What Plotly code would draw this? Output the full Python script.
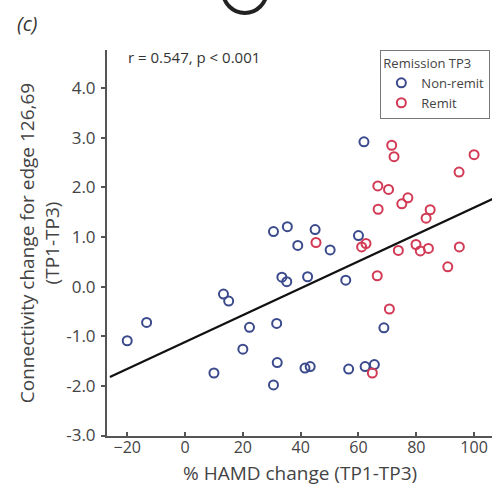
import plotly.graph_objects as go

# Non-remit (blue) points: % HAMD change, connectivity change
nonremit_x = [-20.0, -13.3, 13.3, 15.1, 22.3, 20.0, 10.0, 31.7, 31.9, 30.6,
              33.5, 35.2, 42.4, 55.6, 30.6, 35.4, 45.0, 39.0, 50.2, 60.0,
              61.9, 41.5, 43.3, 56.6, 62.3, 65.5, 68.8]
nonremit_y = [-1.09, -0.72, -0.15, -0.29, -0.82, -1.26, -1.74, -0.74, -1.53, -1.98,
              0.19, 0.10, 0.20, 0.13, 1.11, 1.21, 1.15, 0.83, 0.74, 1.03,
              2.92, -1.64, -1.61, -1.66, -1.61, -1.57, -0.83]

# Remit (red) points
remit_x = [45.3, 61.1, 62.6, 71.5, 72.3, 100.0, 94.8, 66.7, 70.4, 77.1,
           75.0, 66.8, 84.8, 83.4, 73.8, 79.9, 81.4, 84.2, 94.9, 90.9,
           66.5, 70.7, 64.8]
remit_y = [0.89, 0.80, 0.87, 2.85, 2.62, 2.66, 2.31, 2.03, 1.96, 1.79,
           1.67, 1.56, 1.55, 1.38, 0.73, 0.85, 0.72, 0.77, 0.80, 0.40,
           0.22, -0.45, -1.74]

# Regression line endpoints
fit_x = [-26.0, 106.5]
fit_y = [-1.82, 1.77]

x_ticks = [-20, 0, 20, 40, 60, 80, 100]
y_ticks = [-3.0, -2.0, -1.0, 0.0, 1.0, 2.0, 3.0, 4.0]
y_tick_labels = ["-3.0", "-2.0", "-1.0", "0.0", "1.0", "2.0", "3.0", "4.0"]

BLUE = "#3b4a8c"
RED = "#d23a55"
FONT = "Open Sans"
TXT = "#444444"

fig = go.Figure()
fig.add_trace(go.Scatter(
    x=fit_x, y=fit_y, mode="lines",
    line=dict(color="#111111", width=2.2),
    showlegend=False, hoverinfo="skip"))
fig.add_trace(go.Scatter(
    x=nonremit_x, y=nonremit_y, mode="markers", name="Non-remit",
    marker=dict(symbol="circle-open", size=9, color=BLUE, line=dict(width=2, color=BLUE))))
fig.add_trace(go.Scatter(
    x=remit_x, y=remit_y, mode="markers", name="Remit",
    marker=dict(symbol="circle-open", size=9, color=RED, line=dict(width=2, color=RED))))

fig.update_layout(
    width=500, height=490,
    margin=dict(l=107, r=8, t=50, b=54),
    paper_bgcolor="white", plot_bgcolor="white",
    font=dict(family=FONT, color=TXT, size=13),
    legend=dict(
        title=dict(text="Remission TP3", font=dict(size=13, color=TXT)),
        font=dict(size=13, color=TXT),
        x=0.71, y=1.0, xanchor="left", yanchor="top",
        bordercolor="#777", borderwidth=1, bgcolor="white",
        itemwidth=30, tracegroupgap=0,
    ),
    xaxis=dict(
        range=[-27.0, 106.2], tickvals=x_ticks,
        showgrid=False, zeroline=False, automargin=False,
        showline=True, linecolor="#555", linewidth=1.5,
        ticks="inside", ticklen=4, tickcolor="#555", tickwidth=1.5,
        ticklabelstandoff=-4,
        tickfont=dict(size=16, color=TXT),
    ),
    yaxis=dict(
        range=[-3.01, 4.77], tickvals=y_ticks, ticktext=y_tick_labels,
        showgrid=False, zeroline=False, automargin=False,
        showline=True, linecolor="#555", linewidth=2,
        ticks="outside", ticklen=4, tickcolor="#555", tickwidth=1.5,
        ticklabelstandoff=2,
        tickfont=dict(size=17, color=TXT),
        title=dict(text="Connectivity change for edge 126,69<br>(TP1-TP3)",
                   font=dict(size=19, color=TXT), standoff=2),
    ),
    annotations=[
        dict(text="% HAMD change (TP1-TP3)", xref="paper", yref="paper",
             x=0.5, y=-0.095, xanchor="center", yanchor="middle", showarrow=False,
             font=dict(size=19, color=TXT)),
        dict(text="r = 0.547, p < 0.001", xref="paper", yref="paper",
             x=0.05, y=1.012, xanchor="left", yanchor="top", showarrow=False,
             font=dict(size=15, color="#333")),
        dict(text="<i>(c)</i>", xref="paper", yref="paper",
             x=-0.208, y=1.028, xanchor="center", yanchor="bottom", showarrow=False,
             font=dict(size=20, color="#333")),
    ],
    shapes=[
        dict(type="circle", xref="paper", yref="paper",
             x0=0.301, x1=0.415, y0=1.096, y1=1.21,
             line=dict(color="#222", width=4)),
    ],
)

fig.write_html("out.html", config={"displayModeBar": False},
               post_script="document.body.style.margin='0';")
